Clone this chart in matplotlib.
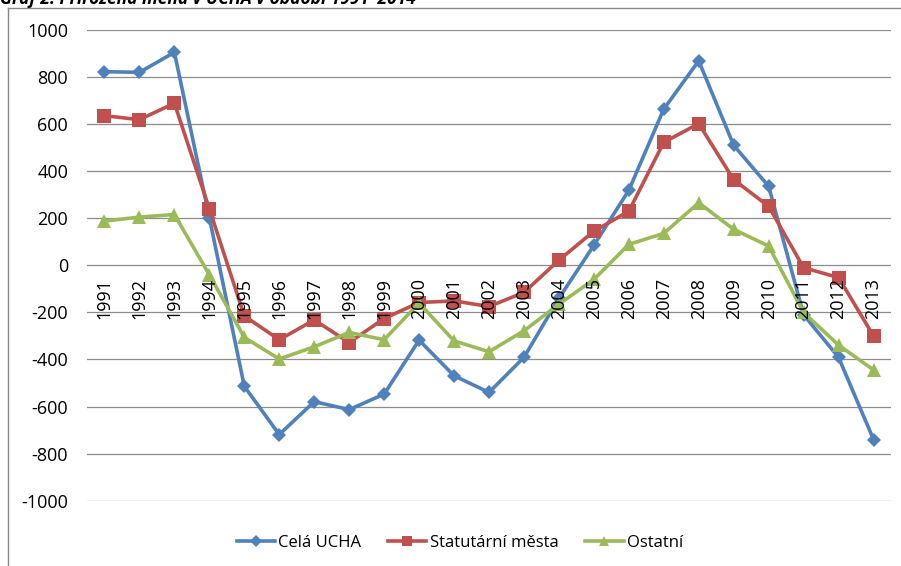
import matplotlib
matplotlib.use("Agg")
import matplotlib.pyplot as plt
from matplotlib.lines import Line2D

plt.rcParams['font.family'] = ['Open Sans', 'DejaVu Sans']

years = [str(y) for y in range(1991, 2014)]
cela_ucha = [823, 820, 905, 203, -514, -719, -579, -613, -547, -318, -469, -540,
             -391, -140, 85, 319, 664, 869, 510, 336, -210, -391, -740]
statutarni = [636, 619, 689, 240, -215, -316, -232, -328, -226, -158, -151, -175,
              -115, 22, 145, 230, 523, 602, 364, 251, -10, -52, -300]
ostatni = [188, 205, 216, -40, -306, -398, -346, -285, -316, -160, -321, -367,
           -278, -165, -60, 89, 136, 266, 153, 82, -200, -339, -444]
series_names = ["Celá UCHA", "Statutární města", "Ostatní"]
y_ticks = list(range(-1000, 1001, 200))
title = "Graf 2: Přirozená měna v UCHA v období 1991–2014"

W, H = 901, 566
fig = plt.figure(figsize=(W / 100, H / 100), dpi=100)
ax = fig.add_axes([87 / W, (H - 500.7) / H, 804 / W, (500.7 - 30) / H])

x = list(range(len(years)))
colors = ['#4F81BD', '#C0504D', '#9BBB59']
markers = ['D', 's', '^']
msizes = [7.5, 10, 10]
for vals, name, c, m, ms in zip([cela_ucha, statutarni, ostatni], series_names, colors, markers, msizes):
    ax.plot(x, vals, color=c, lw=2.6, marker=m, markersize=ms, markeredgewidth=0,
            label=name, zorder=3, solid_joinstyle='round')

ax.set_xlim(-0.5, len(years) - 0.5)
ax.set_ylim(-1000, 1000)
ax.set_yticks(y_ticks)
ax.set_yticklabels([str(v) for v in y_ticks])
ax.set_xticks([])
ax.tick_params(axis='y', length=0, pad=13.5, labelsize=13, labelcolor='black')
for s in ax.spines.values():
    s.set_visible(False)
ax.grid(axis='y', color='#8c8c8c', lw=0.9, zorder=1)
ax.set_axisbelow(True)

for xi, lab in zip(x, years):
    ax.annotate(lab, xy=(xi, 0), xytext=(0, -9.0), textcoords='offset points',
                rotation=90, ha='center', va='top', fontsize=13, zorder=10)

# chart border (left and top edges visible)
fig.add_artist(Line2D([8 / W, 8 / W], [1 - 8 / H, 0], color='#8a8a8a', lw=1.0,
                      transform=fig.transFigure))
fig.add_artist(Line2D([8 / W, 1], [1 - 8 / H, 1 - 8 / H], color='#8a8a8a', lw=1.0,
                      transform=fig.transFigure))

fig.text(0.0, 1 - 4.5 / H, title, fontsize=12.5, fontweight='bold', fontstyle='italic',
         ha='left', va='baseline')

fig.legend(loc='center', bbox_to_anchor=(460 / W, 1 - 542.7 / H), ncol=3, frameon=False,
           fontsize=12, handlelength=2.3, handletextpad=0.2, columnspacing=1.6,
           markerscale=0.75)

fig.savefig("out.png", dpi=100)
